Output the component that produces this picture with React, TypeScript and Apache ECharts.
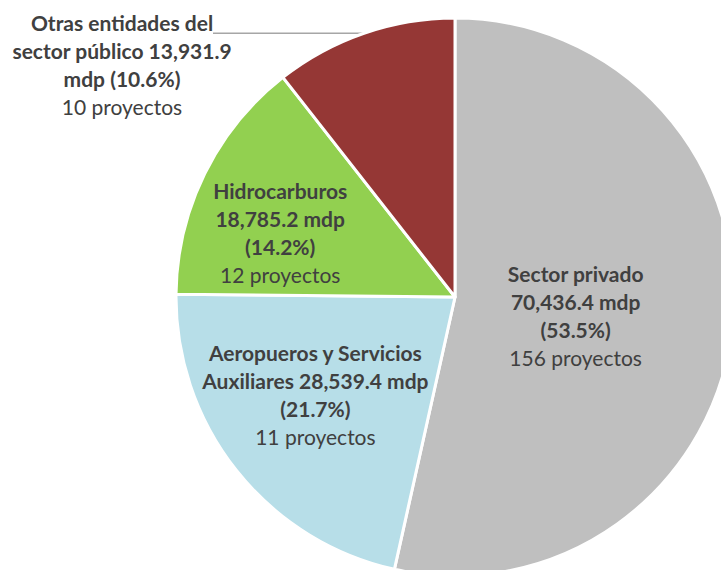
import React, { useEffect, useRef } from "react";
import * as echarts from "echarts";

const categories = [
  "Sector privado",
  "Aeropueros y Servicios Auxiliares",
  "Hidrocarburos",
  "Otras entidades del sector público",
];
const amounts = [70436.4, 28539.4, 18785.2, 13931.9];
const amountLabels = ["70,436.4", "28,539.4", "18,785.2", "13,931.9"];
const pctLabels = ["53.5%", "21.7%", "14.2%", "10.6%"];
const projects = [156, 11, 12, 10];
const colors = ["#BFBFBF", "#B7DEE8", "#92D050", "#953735"];
const wrapChars = [14, 23, 13, 23];

function wrap(text: string, max: number): string[] {
  const words = text.split(" ");
  const lines: string[] = [];
  let cur = "";
  for (const w of words) {
    const cand = cur ? cur + " " + w : w;
    if (cand.length > max && cur) {
      lines.push(cur);
      cur = w;
    } else cur = cand;
  }
  if (cur) lines.push(cur);
  return lines;
}

export default function App() {
  const ref = useRef<HTMLDivElement>(null);
  useEffect(() => {
    if (!ref.current) return;
    const chart = echarts.init(ref.current, null, { renderer: "svg" });
    const font = "Lato";
    const offsets = [
      [-21, 3],
      [-28, 9],
      [-47, -1],
      [0, 0],
    ];
    const data = categories.map((name, i) => ({
      name,
      value: amounts[i],
      itemStyle: { color: colors[i] },
      label:
        i === 3
          ? { position: "outside", align: "center" }
          : { position: "inside", offset: offsets[i] },
      labelLine: i === 3 ? { show: true, length: 0, length2: 10 } : { show: false },
    }));
    chart.setOption({
      animation: false,
      series: [
        {
          type: "pie",
          center: [455, 297],
          radius: [0, 279],
          startAngle: 90,
          clockwise: true,
          avoidLabelOverlap: false,
          itemStyle: { borderColor: "#ffffff", borderWidth: 3 },
          emphasis: { disabled: true },
          data,
          label: {
            show: true,
            color: "#404040",
            fontFamily: font,
            formatter: (p: any) => {
              const i = p.dataIndex;
              const bold = wrap(
                `${categories[i]} ${amountLabels[i]} mdp (${pctLabels[i]})`,
                wrapChars[i]
              );
              return (
                bold.map((l) => `{b|${l}}`).join("\n") +
                `\n{n|${projects[i]} proyectos}`
              );
            },
            rich: {
              b: {
                fontFamily: font,
                fontWeight: "bold",
                fontSize: 21,
                lineHeight: 28,
                color: "#404040",
                align: "center",
              },
              n: {
                fontFamily: font,
                fontSize: 21,
                lineHeight: 28,
                color: "#404040",
                align: "center",
              },
            },
          },
          labelLine: {
            lineStyle: { color: "#A6A6A6", width: 1.5 },
          },
          labelLayout: (params: any) => {
            if (params.dataIndex !== 3) return {};
            const p0 = params.labelLinePoints ? params.labelLinePoints[0] : [362, 34];
            return {
              x: 122,
              y: 64,
              align: "center",
              verticalAlign: "middle",
              labelLinePoints: [p0, [213, p0[1]], [213, p0[1]]],
            };
          },
        },
      ],
    });
    return () => chart.dispose();
  }, []);
  return (
    <div
      ref={ref}
      style={{ position: "fixed", left: 0, top: 0, width: 721, height: 570, background: "#fff" }}
    />
  );
}
